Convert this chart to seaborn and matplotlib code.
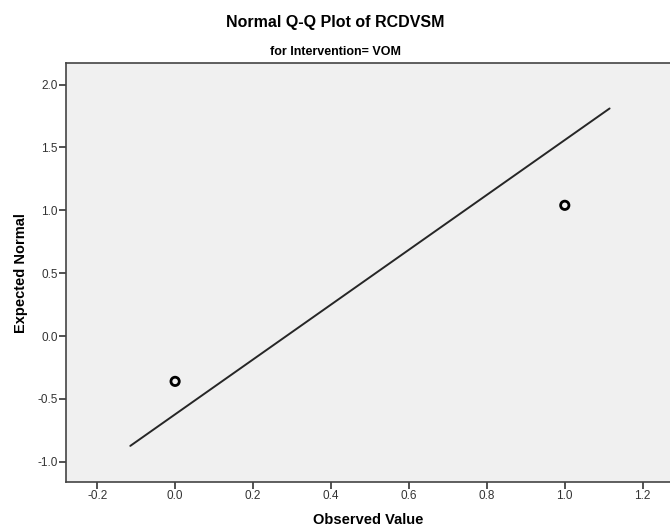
import numpy as np
import pandas as pd
import seaborn as sns
import matplotlib.pyplot as plt

# observed values and their expected normal scores
observed = [0.0, 1.0]
expected = [-0.36, 1.04]

# end points of the reference line
line_x = [-0.115, 1.115]
line_y = [-0.873, 1.81]

x_ticks = [-0.2, 0.0, 0.2, 0.4, 0.6, 0.8, 1.0, 1.2]
y_ticks = [-1.0, -0.5, 0.0, 0.5, 1.0, 1.5, 2.0]

pts = pd.DataFrame({"Observed Value": observed, "Expected Normal": expected})
ref = pd.DataFrame({"x": line_x, "y": line_y})

sns.set_style("white")
plt.rcParams['font.family'] = ['Liberation Sans', 'DejaVu Sans']

fig = plt.figure(figsize=(6.7, 5.31), dpi=100)
ax = fig.add_axes([0.0985, 0.0923, 0.9015, 0.7887])
ax.set_facecolor("#f0f0f0")

sns.lineplot(data=ref, x="x", y="y", ax=ax, color="#262626", linewidth=1.4)
sns.scatterplot(data=pts, x="Observed Value", y="Expected Normal", ax=ax,
                s=36, facecolor="none", edgecolor="black", linewidth=2)

ax.set_xlim(-0.28, 1.27)
ax.set_ylim(-1.16, 2.17)
ax.set_xticks(x_ticks)
ax.set_yticks(y_ticks)
ax.set_xticklabels([f"{v:.1f}" for v in x_ticks])
ax.set_yticklabels([f"{v:.1f}" for v in y_ticks])
ax.tick_params(axis="both", direction="out", length=5, width=1.2, color="#333333",
               labelsize=8.5, labelcolor="#333333", bottom=True, left=True, pad=1)

for side in ["left", "bottom", "top"]:
    ax.spines[side].set_color("#444444")
    ax.spines[side].set_linewidth(1.2)
ax.spines["right"].set_visible(False)

ax.set_xlabel("Observed Value", fontsize=10.5, fontweight="bold", labelpad=8,
              color="black")
ax.set_ylabel("Expected Normal", fontsize=10.5, fontweight="bold", labelpad=7,
              color="black")

fig.text(0.5, 0.958, "Normal Q-Q Plot of RCDVSM", ha="center", va="center",
         fontsize=11.5, fontweight="bold", color="black")
fig.text(0.5, 0.902, "for Intervention= VOM", ha="center", va="center",
         fontsize=9, fontweight="bold", color="black")

fig.savefig("out.png", dpi=100)
